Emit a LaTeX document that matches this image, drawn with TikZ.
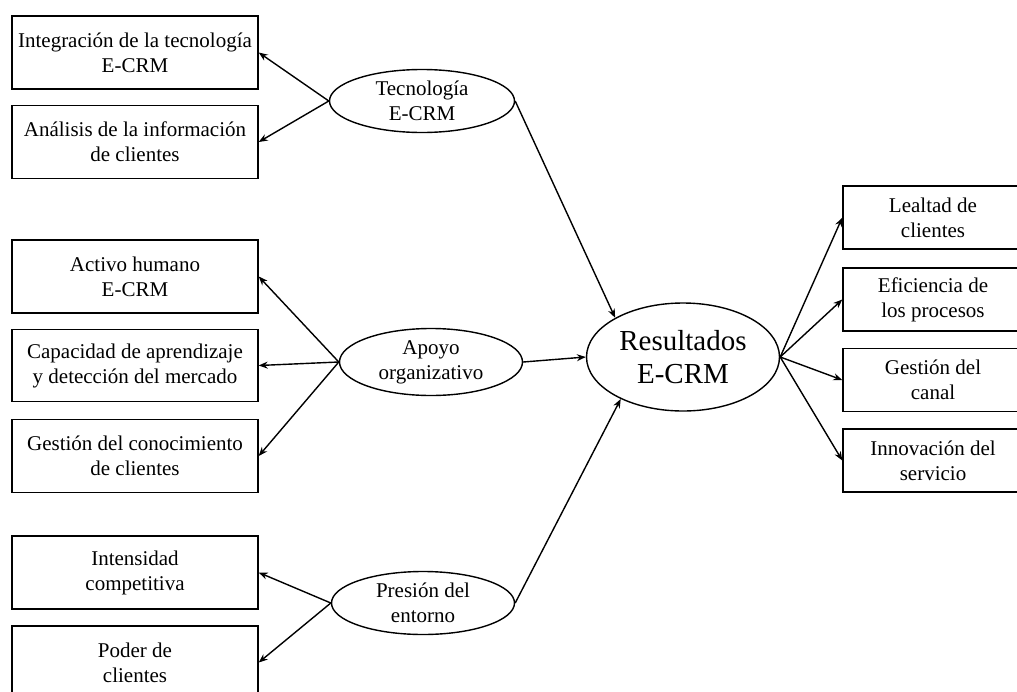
\documentclass[tikz,border=0pt]{standalone}
\usepackage{fontspec}
\setmainfont{Liberation Serif}
\usetikzlibrary{shapes.geometric}
\usetikzlibrary{arrows.meta}
\begin{document}
\begin{tikzpicture}[x=1pt,y=-1pt,
  box/.style={draw,black,line width=1.4pt,rectangle,inner sep=0pt,align=center,
    font=\fontsize{21}{25}\selectfont},
  oval/.style={draw,black,line width=1.4pt,ellipse,inner sep=0pt,align=center,
    minimum width=185pt,minimum height=63pt,font=\fontsize{21}{25}\selectfont}]
\def\l{9pt}
\def\w{7pt}
\clip (0,0) rectangle (1017,691);
%factores
\node [box, minimum width=246pt, minimum height=73pt, name=f1] at (135,52.5) {Integración de la tecnología\\E-CRM};
\node [box, minimum width=246pt, minimum height=73pt, name=f2] at (135,142) {Análisis de la información\\de clientes};
\node [box, minimum width=246pt, minimum height=73pt, name=f3] at (135,276.5) {Activo humano\\E-CRM};
\node [box, minimum width=246pt, minimum height=72pt, name=f4] at (135,365.5) {Capacidad de aprendizaje\\y detección del mercado};
\node [box, minimum width=246pt, minimum height=73pt, name=f5] at (135,456) {Gestión del conocimiento\\de clientes};
\node [box, minimum width=246pt, minimum height=73pt, name=f6] at (135,572.5) {Intensidad\\competitiva};
\node [box, minimum width=246pt, minimum height=73pt, name=f7] at (135,662.5) {Poder de\\clientes};
%dimensiones
\node [oval, name=tec] at (422,101) {Tecnología\\E-CRM};
\node [oval, minimum width=183pt, minimum height=67pt, name=apo] at (431,362) {Apoyo\\organizativo};
\node [oval, minimum width=183pt, name=pre] at (423,603) {Presión del\\entorno};
\node [oval, minimum width=193pt, minimum height=108pt, font=\fontsize{29}{33}\selectfont, name=res] at (683,357) {Resultados\\E-CRM};
%resultados
\node [box, minimum width=180pt, minimum height=63pt, name=o1] at (933,217.5) {Lealtad de\\clientes};
\node [box, minimum width=180pt, minimum height=63pt, name=o2] at (933,299.5) {Eficiencia de\\los procesos};
\node [box, minimum width=180pt, minimum height=63pt, name=o3] at (933,380) {Gestión del\\canal};
\node [box, minimum width=180pt, minimum height=63pt, name=o4] at (933,460.5) {Innovación del\\servicio};
\draw [line width=1.4pt,-{Stealth[length=\l, width=\w]}](tec.west) -- (f1.east);
\draw [line width=1.4pt,-{Stealth[length=\l, width=\w]}](tec.west) -- (f2.east);
\draw [line width=1.4pt,-{Stealth[length=\l, width=\w]}](apo.west) -- (f3.east);
\draw [line width=1.4pt,-{Stealth[length=\l, width=\w]}](apo.west) -- (f4.east);
\draw [line width=1.4pt,-{Stealth[length=\l, width=\w]}](apo.west) -- (f5.east);
\draw [line width=1.4pt,-{Stealth[length=\l, width=\w]}](pre.west) -- (f6.east);
\draw [line width=1.4pt,-{Stealth[length=\l, width=\w]}](pre.west) -- (f7.east);
\draw [line width=1.4pt,-{Stealth[length=\l, width=\w]}](tec.east) -- (res.150);
\draw [line width=1.4pt,-{Stealth[length=\l, width=\w]}](apo.east) -- (res.west);
\draw [line width=1.4pt,-{Stealth[length=\l, width=\w]}](pre.east) -- (res.214);
\draw [line width=1.4pt,-{Stealth[length=\l, width=\w]}](res.east) -- (o1.west);
\draw [line width=1.4pt,-{Stealth[length=\l, width=\w]}](res.east) -- (o2.west);
\draw [line width=1.4pt,-{Stealth[length=\l, width=\w]}](res.east) -- (o3.west);
\draw [line width=1.4pt,-{Stealth[length=\l, width=\w]}](res.east) -- (o4.west);
\end{tikzpicture}
\end{document}
